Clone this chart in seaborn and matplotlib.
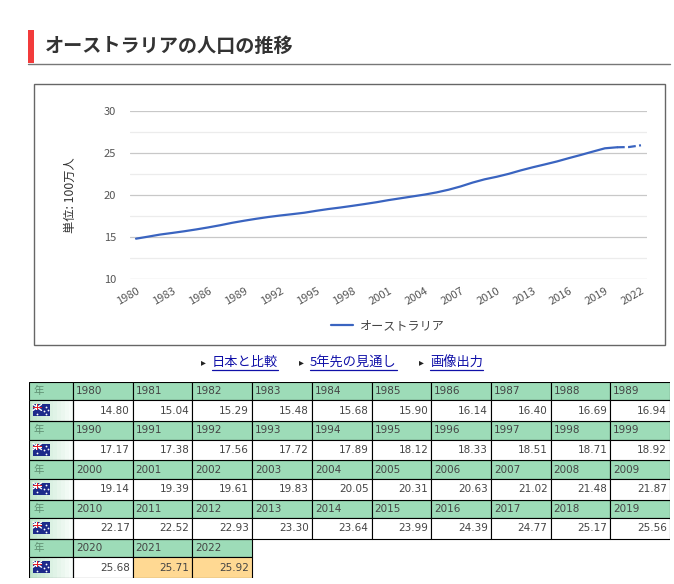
import numpy as np
import pandas as pd
import matplotlib
matplotlib.use("Agg")
import matplotlib.pyplot as plt
from matplotlib.patches import Rectangle
from matplotlib.lines import Line2D
import seaborn as sns

# === Datos ===
years = list(range(1980, 2023))
population = [14.80, 15.04, 15.29, 15.48, 15.68, 15.90, 16.14, 16.40, 16.69, 16.94,
              17.17, 17.38, 17.56, 17.72, 17.89, 18.12, 18.33, 18.51, 18.71, 18.92,
              19.14, 19.39, 19.61, 19.83, 20.05, 20.31, 20.63, 21.02, 21.48, 21.87,
              22.17, 22.52, 22.93, 23.30, 23.64, 23.99, 24.39, 24.77, 25.17, 25.56,
              25.68, 25.71, 25.92]
estimated_years = [2021, 2022]
series_name = "オーストラリア"
title = "オーストラリアの人口の推移"
y_label = "単位: 100万人"
links = ["日本と比較", "5年先の見通し", "画像出力"]
x_ticks = list(range(1980, 2023, 3))
y_ticks = [10, 15, 20, 25, 30]

df = pd.DataFrame({"year": years, "pop": population})

sns.set_style("white")
plt.rcParams["font.family"] = ["Noto Sans CJK JP", "DejaVu Sans"]

W, H = 674, 584
fig = plt.figure(figsize=(W / 100, H / 100), dpi=100)


def fx(px):
    return px / W


def fy(py):
    return 1 - py / H


line_color = "#3a64c0"

# === Titulo ===
fig.patches.append(Rectangle((fx(28), fy(63)), fx(6), 33 / H, transform=fig.transFigure,
                             facecolor="#f23b3b", edgecolor="none"))
fig.text(fx(45), fy(46), title, fontsize=13.8, fontweight="bold", color="#333333",
         va="center", ha="left")
fig.lines.append(Line2D([fx(28), fx(670)], [fy(64), fy(64)], transform=fig.transFigure,
                        color="#777777", lw=1))

# === Marco del grafico ===
fig.patches.append(Rectangle((fx(34), fy(345)), fx(631), 261 / H, transform=fig.transFigure,
                             facecolor="none", edgecolor="#666666", lw=1))

# === Grafico ===
ax = fig.add_axes([fx(130), fy(279), fx(517), 168 / H])
solid = df[df["year"] <= 2020]
dashed = df[df["year"] >= 2020]
sns.lineplot(data=solid, x="year", y="pop", color=line_color, lw=1.6, ax=ax, label=series_name)
sns.lineplot(data=dashed, x="year", y="pop", color=line_color, lw=1.6, ax=ax,
             linestyle=(0, (3.5, 1.5)), legend=False)
ax.set_xlim(1979.5, 2022.5)
ax.set_ylim(10, 30)
ax.set_yticks(y_ticks)
ax.set_yticks([12.5, 17.5, 22.5, 27.5], minor=True)
ax.set_xticks(x_ticks)
ax.set_xticklabels([str(y) for y in x_ticks], rotation=30, ha="right",
                   rotation_mode="anchor", fontsize=8, color="#555555")
ax.tick_params(axis="y", labelsize=8, labelcolor="#555555", length=0, pad=10)
ax.tick_params(axis="x", length=0, pad=5)
ax.grid(axis="y", which="major", color="#c8c8c8", lw=0.9)
ax.grid(axis="y", which="minor", color="#ececec", lw=0.9)
ax.grid(axis="x", visible=False)
for s in ax.spines.values():
    s.set_visible(False)
ax.set_xlabel("")
ax.set_ylabel(y_label, fontsize=8.8, color="#333333", labelpad=19)
ax.legend(loc="center", bbox_to_anchor=(fx(388), fy(326)), bbox_transform=fig.transFigure,
          frameon=False, fontsize=8.7, handlelength=1.8, handletextpad=0.6,
          labelcolor="#444444")

# === Enlaces ===
link_color = "#1010a8"
link_x = [212, 310, 430]
for lx, txt in zip(link_x, links):
    fig.text(fx(lx - 11), fy(362), "▸", fontsize=7, color="#222222", va="center", ha="left")
    t = fig.text(fx(lx), fy(362), txt, fontsize=9.5, color=link_color, va="center", ha="left")
fig.canvas.draw()
renderer = fig.canvas.get_renderer()
for t in fig.texts:
    if t.get_text() in links:
        bb = t.get_window_extent(renderer)
        fig.lines.append(Line2D([bb.x0 / W, bb.x1 / W], [fy(370), fy(370)],
                                transform=fig.transFigure, color=link_color, lw=0.9))

# === Tabla ===
tab = fig.add_axes([fx(29), fy(578), fx(641), 196 / H])
tab.set_xlim(0, 641)
tab.set_ylim(196, 0)
tab.axis("off")
first_w = 44
col_w = (641 - first_w) / 10
head_h = 18.4
data_h = 20.8
header_color = "#9ddcb8"
est_color = "#ffd993"
grad_cmap = matplotlib.colors.LinearSegmentedColormap.from_list("g", ["#c0e5cd", "#f6fcf8"])
n_strips = 11


def draw_flag(x, y):
    tab.add_patch(Rectangle((x, y), 17, 12, facecolor="#1c2a8a", edgecolor="none", zorder=4))
    tab.plot([x, x + 8.5], [y, y + 6], color="white", lw=1.0, zorder=5)
    tab.plot([x, x + 8.5], [y + 6, y], color="white", lw=1.0, zorder=5)
    tab.add_patch(Rectangle((x, y + 2.2), 8.5, 1.8, facecolor="#ffffff", edgecolor="none", zorder=5))
    tab.add_patch(Rectangle((x + 3.4, y), 1.8, 6, facecolor="#ffffff", edgecolor="none", zorder=5))
    tab.add_patch(Rectangle((x, y + 2.6), 8.5, 1.0, facecolor="#e0202a", edgecolor="none", zorder=6))
    tab.add_patch(Rectangle((x + 3.8, y), 1.0, 6, facecolor="#e0202a", edgecolor="none", zorder=6))
    for dx, dy in [(4.2, 9.3), (12.5, 2.5), (15, 5.8), (12.5, 10), (10.5, 6.5)]:
        tab.plot(x + dx, y + dy, marker="o", ms=1.3, color="white", mec="none", zorder=6)


for g in range(5):
    y0 = g * (head_h + data_h)
    y1 = y0 + head_h
    decade = years[g * 10:(g + 1) * 10]
    vals = population[g * 10:(g + 1) * 10]
    # encabezado
    tab.add_patch(Rectangle((0, y0), first_w, head_h, facecolor=header_color,
                            edgecolor="black", lw=0.8))
    tab.text(4, y0 + head_h / 2, "年", fontsize=7.5, color="#5f8f72", va="center", ha="left")
    # primera columna de datos (degradado)
    sw = first_w / n_strips
    for k in range(n_strips):
        tab.add_patch(Rectangle((k * sw, y1), sw + 0.3, data_h,
                                facecolor=grad_cmap(k / (n_strips - 1)), edgecolor="none", zorder=1))
    tab.add_patch(Rectangle((0, y1), first_w, data_h, facecolor="none",
                            edgecolor="black", lw=0.8, zorder=3))
    draw_flag(4, y1 + 4)
    for i, (yr, v) in enumerate(zip(decade, vals)):
        x0 = first_w + i * col_w
        tab.add_patch(Rectangle((x0, y0), col_w, head_h, facecolor=header_color,
                                edgecolor="black", lw=0.8))
        tab.text(x0 + 3, y0 + head_h / 2, str(yr), fontsize=7.5, color="#444444",
                 va="center", ha="left", family="DejaVu Sans")
        fc = est_color if yr in estimated_years else "white"
        tab.add_patch(Rectangle((x0, y1), col_w, data_h, facecolor=fc,
                                edgecolor="black", lw=0.8, zorder=2))
        tab.text(x0 + col_w - 3, y1 + data_h / 2, f"{v:.2f}", fontsize=7.5, color="#444444",
                 va="center", ha="right", family="DejaVu Sans", zorder=3)

tab.set_xlim(0, 641)
tab.set_ylim(196, 0)

fig.savefig("out.png", dpi=100)
